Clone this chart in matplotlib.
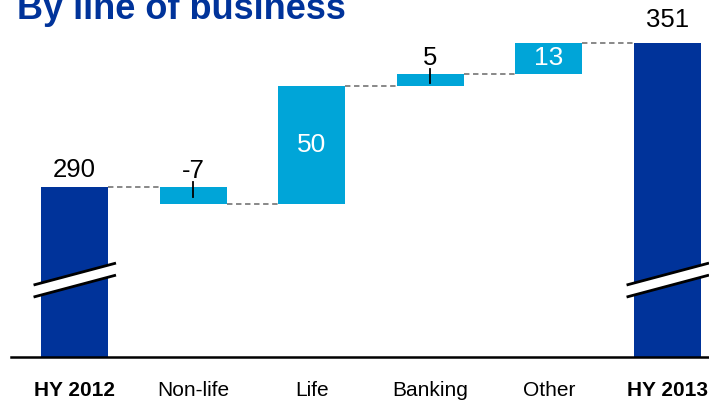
import matplotlib
matplotlib.use("Agg")
import matplotlib.pyplot as plt
from matplotlib.patches import Polygon
import numpy as np

plt.rcParams['font.family'] = ['Liberation Sans', 'DejaVu Sans']

# Waterfall data
categories = ["HY 2012", "Non-life", "Life", "Banking", "Other", "HY 2013"]
start_value = 290
changes = [-7, 50, 5, 13]
end_value = 351
bold_ticks = [True, False, False, False, False, True]

DARK = "#00339A"
LIGHT = "#00A5D8"

fig = plt.figure(figsize=(7.09, 4.01), dpi=100)
W, H = 709, 401
ax = fig.add_axes([0, (H - 357) / H, 1.0, (357 - 20) / H])

ymin, ymax = 218.0, 360.8
ax.set_xlim(-0.628, 5.35)
ax.set_ylim(ymin, ymax)

width = 0.565
x = np.arange(len(categories))

# running totals
levels = [start_value]
for c in changes:
    levels.append(levels[-1] + c)

# total bars
ax.bar(x[0], start_value, width=width, color=DARK, zorder=2)
ax.bar(x[-1], end_value, width=width, color=DARK, zorder=2)

# change bars
for i, c in enumerate(changes):
    lo = min(levels[i], levels[i + 1])
    ax.bar(x[i + 1], abs(c), bottom=lo, width=width, color=LIGHT, zorder=2)

# connectors
conn = [start_value] + levels[1:]
for i in range(len(categories) - 1):
    ax.plot([x[i] + width / 2, x[i + 1] - width / 2], [conn[i], conn[i]],
            color="#7F7F7F", lw=1.3, ls=(0, (3, 2)), zorder=1)

LBL = 18.5
# value labels
ax.annotate(f"{start_value}", (x[0], start_value), xytext=(0, 4),
            textcoords="offset points", ha="center", va="bottom",
            fontsize=LBL, color="black")
ax.annotate(f"{end_value}", (x[-1], end_value), xytext=(0, 8),
            textcoords="offset points", ha="center", va="bottom",
            fontsize=LBL, color="black")
for i, c in enumerate(changes):
    lo = min(levels[i], levels[i + 1])
    hi = max(levels[i], levels[i + 1])
    xi = x[i + 1]
    if abs(c) >= 10:
        ax.text(xi, (lo + hi) / 2, f"{c}", ha="center", va="center",
                fontsize=19, color="white", zorder=3)
    else:
        ax.plot([xi, xi], [hi - 4, hi + 2], color="black", lw=1.3, zorder=3)
        ax.annotate(f"{c}", (xi, hi), xytext=(0, 3),
                    textcoords="offset points", ha="center", va="bottom",
                    fontsize=LBL, color="black", zorder=3)

# axis-break marks on the total bars
for xi in (x[0], x[-1]):
    xl, xr = xi - 0.345, xi + 0.35
    top_l, top_r = 248.5, 257.8
    bot_l, bot_r = 243.4, 252.7
    ax.add_patch(Polygon([[xl, top_l], [xr, top_r], [xr, bot_r], [xl, bot_l]],
                         closed=True, facecolor="white", edgecolor="none",
                         zorder=4, clip_on=False))
    ax.plot([xl, xr], [top_l, top_r], color="black", lw=2.0, zorder=5,
            clip_on=False, solid_capstyle="butt")
    ax.plot([xl, xr], [bot_l, bot_r], color="black", lw=2.0, zorder=5,
            clip_on=False, solid_capstyle="butt")

# axes styling
for s in ("top", "right", "left"):
    ax.spines[s].set_visible(False)
ax.spines["bottom"].set_linewidth(1.8)
ax.spines["bottom"].set_bounds(-0.535, 5.35)
ax.set_yticks([])
ax.set_xticks(x)
ax.set_xticklabels(categories, fontsize=15)
for lbl, b in zip(ax.get_xticklabels(), bold_ticks):
    if b:
        lbl.set_fontweight("bold")
ax.tick_params(axis="x", length=0, pad=17)
ax.patch.set_alpha(0)

fig.text(17 / W, 1 - 19 / H, "By line of business", fontsize=26,
         fontweight="bold", color=DARK, ha="left", va="baseline")

fig.savefig("out.png", dpi=100)
